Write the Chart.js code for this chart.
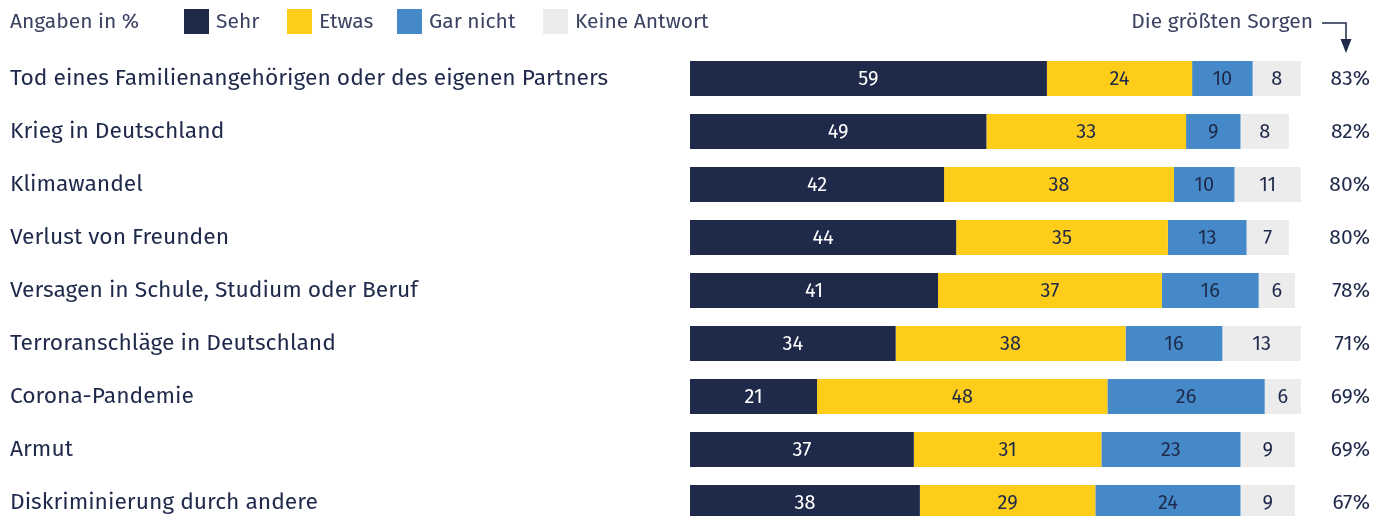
<!DOCTYPE html>
<html>
<head>
<meta charset="utf-8">
<script src="https://cdn.jsdelivr.net/npm/chart.js@4/dist/chart.umd.min.js"></script>
<style>
  html, body { margin: 0; padding: 0; background: #fff; overflow: hidden; }
  #wrap { width: 1384px; height: 530px; }
</style>
</head>
<body>
<div id="wrap"><canvas id="chart" width="1384" height="530"></canvas></div>
<script>
// categories and series (Angaben in %)
const categories = [
  'Tod eines Familienangehörigen oder des eigenen Partners',
  'Krieg in Deutschland',
  'Klimawandel',
  'Verlust von Freunden',
  'Versagen in Schule, Studium oder Beruf',
  'Terroranschläge in Deutschland',
  'Corona-Pandemie',
  'Armut',
  'Diskriminierung durch andere'
];
const sehr      = [59, 49, 42, 44, 41, 34, 21, 37, 38];
const etwas     = [24, 33, 38, 35, 37, 38, 48, 31, 29];
const garNicht  = [10, 9, 10, 13, 16, 16, 26, 23, 24];
const keine     = [8, 8, 11, 7, 6, 13, 6, 9, 9];
const groessteSorgen = ['83%', '82%', '80%', '80%', '78%', '71%', '69%', '69%', '67%'];

const seriesNames  = ['Sehr', 'Etwas', 'Gar nicht', 'Keine Antwort'];
const seriesColors = ['#1f2a4b', '#fecd1a', '#4589c8', '#ececec'];
const labelColors  = ['#ffffff', '#1f2a4b', '#1f2a4b', '#1f2a4b'];

const FONT = '"Fira Sans", "Open Sans", "Noto Sans", sans-serif';
const TEXT = '#1f2a4b';

// numbers inside the bars, right column and header
const overlay = {
  id: 'overlay',
  afterDatasetsDraw(chart) {
    const ctx = chart.ctx;
    ctx.save();
    ctx.textBaseline = 'middle';
    ctx.textAlign = 'center';
    ctx.font = '20px ' + FONT;
    chart.data.datasets.forEach((ds, di) => {
      chart.getDatasetMeta(di).data.forEach((bar, i) => {
        const x = (bar.x + bar.base) / 2;
        ctx.fillStyle = labelColors[di];
        ctx.fillText(ds.data[i], x, bar.y + 1);
      });
    });

    // right column
    ctx.textAlign = 'right';
    ctx.font = '21px ' + FONT;
    ctx.fillStyle = TEXT;
    const yScale = chart.scales.y;
    groessteSorgen.forEach((t, i) => {
      ctx.fillText(t, 1370, yScale.getPixelForValue(i) + 1);
    });

    // legend
    ctx.textAlign = 'left';
    ctx.font = '21px ' + FONT;
    ctx.fillStyle = '#3b4262';
    ctx.fillText('Angaben in %', 10, 22);
    const legendX = [184, 287, 397, 543];
    seriesNames.forEach((n, i) => {
      ctx.fillStyle = seriesColors[i];
      ctx.fillRect(legendX[i], 9, 25, 25);
      ctx.fillStyle = '#3b4262';
      ctx.fillText(n, legendX[i] + 32, 22);
    });

    // header with arrow
    ctx.textAlign = 'right';
    ctx.fillText('Die größten Sorgen', 1313, 22);
    ctx.strokeStyle = TEXT;
    ctx.lineWidth = 1.5;
    ctx.beginPath();
    ctx.moveTo(1322, 23);
    ctx.lineTo(1346, 23);
    ctx.lineTo(1346, 40);
    ctx.stroke();
    ctx.fillStyle = TEXT;
    ctx.beginPath();
    ctx.moveTo(1340.5, 39);
    ctx.lineTo(1351.5, 39);
    ctx.lineTo(1346, 53);
    ctx.closePath();
    ctx.fill();
    ctx.restore();
  }
};

const datasets = [sehr, etwas, garNicht, keine].map((d, i) => ({
  label: seriesNames[i],
  data: d,
  backgroundColor: seriesColors[i],
  borderWidth: 0,
  categoryPercentage: 1,
  barPercentage: 0.66
}));

new Chart(document.getElementById('chart'), {
  type: 'bar',
  data: { labels: categories, datasets },
  options: {
    indexAxis: 'y',
    responsive: false,
    animation: false,
    layout: { padding: { top: 52, bottom: 1, left: 10, right: 83 } },
    plugins: { legend: { display: false }, tooltip: { enabled: false } },
    scales: {
      x: { stacked: true, min: 0, max: 101, display: false },
      y: {
        stacked: true,
        grid: { display: false },
        border: { display: false },
        afterFit(scale) {
          scale.width = 680;
          scale.paddingTop = 0;
          scale.paddingBottom = 0;
        },
        ticks: {
          crossAlign: 'far',
          color: TEXT,
          padding: 0,
          font: { family: FONT, size: 22.8, weight: '400' }
        }
      }
    }
  },
  plugins: [overlay]
});
</script>
</body>
</html>
